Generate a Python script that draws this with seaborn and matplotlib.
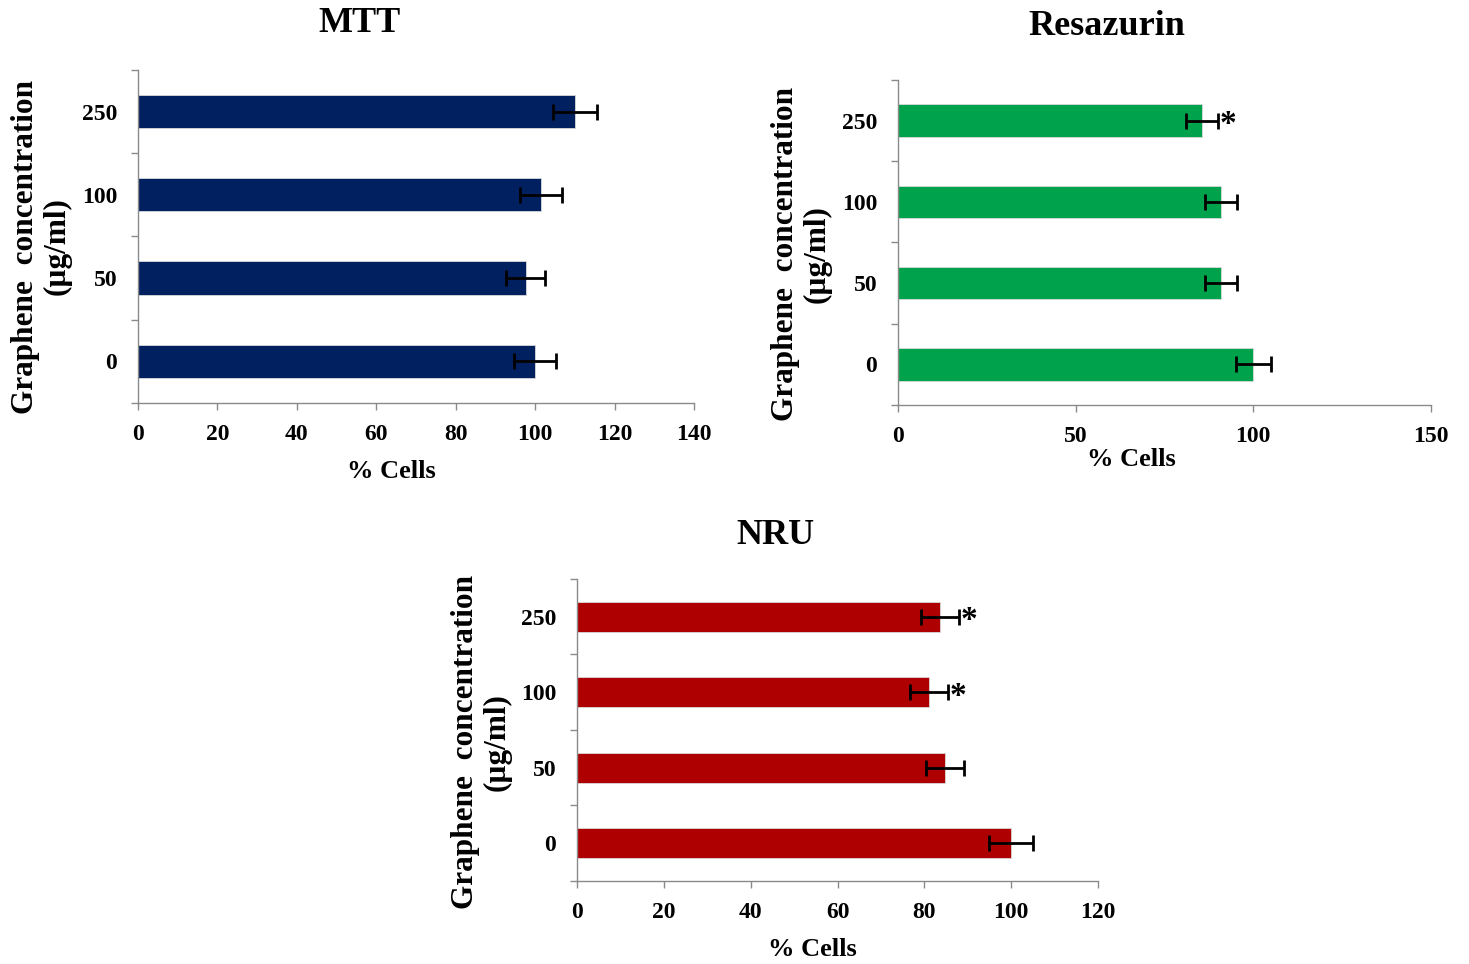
import numpy as np
import pandas as pd
import seaborn as sns
import matplotlib
matplotlib.use("Agg")
import matplotlib.pyplot as plt
from matplotlib.ticker import FixedLocator

# Graphene concentrations (µg/ml), listed top to bottom
concentrations = ["250", "100", "50", "0"]

# MTT assay: % viable cells (mean, SD)
mtt_mean = [110.1, 101.5, 97.7, 100.0]
mtt_sd = [5.5, 5.3, 4.9, 5.2]

# Resazurin assay
resazurin_mean = [85.6, 90.9, 90.9, 100.0]
resazurin_sd = [4.5, 4.6, 4.6, 5.0]
resazurin_sig = ["250"]

# Neutral red uptake assay
nru_mean = [83.6, 81.1, 84.8, 100.0]
nru_sd = [4.3, 4.4, 4.4, 5.1]
nru_sig = ["250", "100"]

sns.set_theme(style="white")
plt.rcParams["font.family"] = ["Liberation Serif", "DejaVu Serif"]
plt.rcParams["font.weight"] = "bold"
for key in ("text.color", "axes.labelcolor", "xtick.labelcolor", "ytick.labelcolor"):
    plt.rcParams[key] = "black"

fig = plt.figure(figsize=(14.69, 9.64), dpi=100)

panels = [
    dict(title="MTT", mean=mtt_mean, sd=mtt_sd, sig=[], color="#002060",
         rect=[0.0939, 0.582, 0.3785, 0.3454], xmax=140, xstep=20,
         title_xy=(0.245, 0.976), xlab=(0.455, -0.172), ylab=(-0.119, 0.47)),
    dict(title="Resazurin", mean=resazurin_mean, sd=resazurin_sd, sig=resazurin_sig,
         color="#00A24B", rect=[0.6113, 0.5799, 0.3628, 0.3371], xmax=150, xstep=50,
         title_xy=(0.7536, 0.972), xlab=(0.437, -0.132), ylab=(-0.125, 0.465)),
    dict(title="NRU", mean=nru_mean, sd=nru_sd, sig=nru_sig, color="#AE0000",
         rect=[0.3928, 0.0861, 0.3547, 0.3133], xmax=120, xstep=20,
         title_xy=(0.528, 0.445), xlab=(0.451, -0.19), ylab=(-0.126, 0.46)),
]

spine_color = "#8a8a8a"

for p in panels:
    ax = fig.add_axes(p["rect"])
    df = pd.DataFrame({"conc": concentrations, "cells": p["mean"], "sd": p["sd"]})
    sns.barplot(data=df, x="cells", y="conc", order=concentrations, color=p["color"],
                saturation=1.0, width=0.4, errorbar=None, edgecolor="#d9d9d9",
                linewidth=0.6, ax=ax)
    ypos = np.arange(len(concentrations))
    ax.errorbar(df["cells"], ypos, xerr=df["sd"], fmt="none", ecolor="black",
                elinewidth=2.0, capsize=5.5, capthick=2.0, zorder=5)
    for c in p["sig"]:
        i = concentrations.index(c)
        ax.text(df["cells"][i] + df["sd"][i] + 0.4, i + 0.05, "*", fontsize=24,
                fontweight="bold", ha="left", va="center", color="black")

    ax.set_xlim(0, p["xmax"])
    ax.set_ylim(len(concentrations) - 0.5, -0.5)
    ax.set_xticks(np.arange(0, p["xmax"] + 1, p["xstep"]))
    ax.yaxis.set_minor_locator(FixedLocator(np.arange(-0.5, len(concentrations), 1.0)))
    ax.tick_params(axis="y", which="major", length=0, pad=15, labelsize=17)
    ax.tick_params(axis="y", which="minor", length=5, width=1.0, color=spine_color, left=True)
    ax.tick_params(axis="x", which="major", length=5, width=1.0, color=spine_color,
                   bottom=True, pad=10, labelsize=17)
    for lbl in ax.get_xticklabels() + ax.get_yticklabels():
        lbl.set_fontweight("bold")

    for side in ("top", "right"):
        ax.spines[side].set_visible(False)
    for side in ("left", "bottom"):
        ax.spines[side].set_color(spine_color)
        ax.spines[side].set_linewidth(1.0)

    ax.set_xlabel("% Cells", fontsize=19, fontweight="bold")
    ax.xaxis.set_label_coords(*p["xlab"])
    ax.set_ylabel("Graphene  concentration\n(µg/ml)", fontsize=22.5, fontweight="bold",
                  linespacing=1.12)
    ax.yaxis.set_label_coords(*p["ylab"])

    fig.text(p["title_xy"][0], p["title_xy"][1], p["title"], fontsize=26,
             fontweight="bold", ha="center", va="center")

fig.savefig("out.png", dpi=100, facecolor="white")
